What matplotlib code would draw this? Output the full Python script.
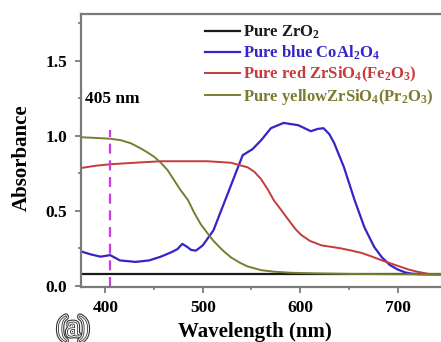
import numpy as np
import matplotlib
matplotlib.use("Agg")
import matplotlib.pyplot as plt
import matplotlib.patheffects as pe

plt.rcParams['font.family'] = ['Liberation Serif', 'DejaVu Serif']
plt.rcParams['font.weight'] = 'bold'
plt.rcParams['mathtext.fontset'] = 'custom'
plt.rcParams['mathtext.rm'] = 'Liberation Serif:bold'
plt.rcParams['mathtext.it'] = 'Liberation Serif:bold'
plt.rcParams['mathtext.bf'] = 'Liberation Serif:bold'

# absorbance spectra (wavelength in nm)
wl_zro2 = [375, 750]
abs_zro2 = [0.08, 0.08]

wl_blue = [375, 385, 395, 405, 415, 431, 445, 457, 468, 474, 479, 484, 488, 493,
           500, 511, 520, 529, 541, 551, 560, 570, 583, 598, 611, 618, 624, 630,
           635, 645, 656, 666, 676, 684, 692, 700, 708, 714, 722, 735, 750]
abs_blue = [0.23, 0.21, 0.195, 0.205, 0.17, 0.16, 0.17, 0.195, 0.225, 0.245, 0.28,
            0.26, 0.24, 0.235, 0.27, 0.37, 0.52, 0.67, 0.87, 0.91, 0.97, 1.05,
            1.085, 1.07, 1.03, 1.045, 1.05, 1.01, 0.95, 0.79, 0.57, 0.39, 0.26,
            0.19, 0.14, 0.11, 0.09, 0.082, 0.078, 0.077, 0.076]

wl_red = [375, 390, 405, 430, 457, 480, 505, 529, 540, 546, 553, 560, 567, 573,
          580, 588, 595, 601, 610, 622, 632, 642, 653, 663, 674, 684, 693, 702,
          711, 720, 732, 750]
abs_red = [0.785, 0.80, 0.81, 0.82, 0.83, 0.83, 0.83, 0.82, 0.80, 0.79, 0.76,
           0.71, 0.64, 0.57, 0.51, 0.44, 0.38, 0.34, 0.30, 0.27, 0.26, 0.25,
           0.235, 0.22, 0.195, 0.17, 0.15, 0.13, 0.11, 0.095, 0.08, 0.075]

wl_yellow = [375, 390, 405, 416, 426, 435, 443, 450, 457, 464, 470, 477, 485, 491,
             498, 505, 511, 520, 529, 538, 546, 560, 573, 590, 614, 650, 700, 750]
abs_yellow = [0.99, 0.985, 0.98, 0.97, 0.95, 0.92, 0.89, 0.86, 0.82, 0.77, 0.71,
              0.64, 0.57, 0.49, 0.41, 0.35, 0.30, 0.24, 0.19, 0.155, 0.13, 0.105,
              0.095, 0.088, 0.084, 0.08, 0.078, 0.077]

c_black = '#1a1a1a'
c_blue = '#3524c8'
c_red = '#c63a3a'
c_olive = '#7b7c2e'

fig = plt.figure(figsize=(4.41, 3.42), dpi=100)
ax = fig.add_axes([81 / 441, 1 - 287 / 342, 1 - 81 / 441 + 0.003, 273 / 342])

ax.plot(wl_zro2, abs_zro2, color=c_black, lw=1.6, label='Pure ZrO$_2$')
ax.plot(wl_blue, abs_blue, color=c_blue, lw=1.6, label='Pure blue CoAl$_2$O$_4$')
ax.plot(wl_red, abs_red, color=c_red, lw=1.4, label='Pure red ZrSiO$_4$(Fe$_2$O$_3$)')
ax.plot(wl_yellow, abs_yellow, color=c_olive, lw=1.4,
        label='Pure yellowZrSiO$_4$(Pr$_2$O$_3$)')

# 405 nm marker
ax.plot([405, 405], [-0.01, 1.04], color='#c93ee0', lw=1.6, ls=(0, (4.5, 3)))
ax.text(379, 1.247, '405 nm', fontsize=12.5, fontweight='bold', va='center', ha='left')

ax.set_xlim(375, 746)
ax.set_ylim(-0.007, 1.81)
ax.set_xticks([400, 500, 600, 700])
ax.set_xticks([450, 550, 650], minor=True)
ax.set_yticks([0.0, 0.5, 1.0, 1.5])
ax.set_yticks([0.25, 0.75, 1.25, 1.75], minor=True)
ax.set_yticklabels(['0.0', '0.5', '1.0', '1.5'])

for side in ['left', 'bottom', 'top']:
    ax.spines[side].set_color('#7a7a7a')
    ax.spines[side].set_linewidth(1.6)
ax.spines['right'].set_visible(False)
ax.tick_params(which='major', direction='out', length=4, width=1.3, color='#7a7a7a',
               labelsize=12.5)
ax.tick_params(axis='x', which='major', pad=5)
ax.tick_params(axis='y', which='major', pad=6)
ax.tick_params(which='minor', direction='out', length=2.5, width=1.2, color='#7a7a7a')
for lab in ax.get_xticklabels() + ax.get_yticklabels():
    lab.set_fontweight('bold')

leg = ax.legend(loc='upper left', bbox_to_anchor=(205 / 441, 1 - 24 / 342),
                bbox_transform=fig.transFigure, frameon=False, fontsize=12,
                handlelength=2.1, handletextpad=0.2, labelspacing=0.16,
                borderpad=0, borderaxespad=0)
for txt, col in zip(leg.get_texts(), [c_black, c_blue, c_red, c_olive]):
    txt.set_color(col)
    txt.set_fontweight('bold')

fig.text(22 / 441, 1 - 158 / 342, 'Absorbance', rotation=90, fontsize=15,
         fontweight='bold', ha='center', va='center')
fig.text(255 / 441, 1 - 332 / 342, 'Wavelength (nm)', fontsize=15,
         fontweight='bold', ha='center', va='center')
# panel tag drawn as a double outline
fig.text(73 / 441, 1 - 329 / 342, '(a)', fontsize=20, fontweight='normal',
         ha='center', va='center', color='white',
         path_effects=[pe.Stroke(linewidth=4.2, foreground='#333333'),
                       pe.Stroke(linewidth=2.6, foreground='white'),
                       pe.Stroke(linewidth=1.2, foreground='#333333'),
                       pe.Normal()])

fig.savefig('out.png', dpi=100)
